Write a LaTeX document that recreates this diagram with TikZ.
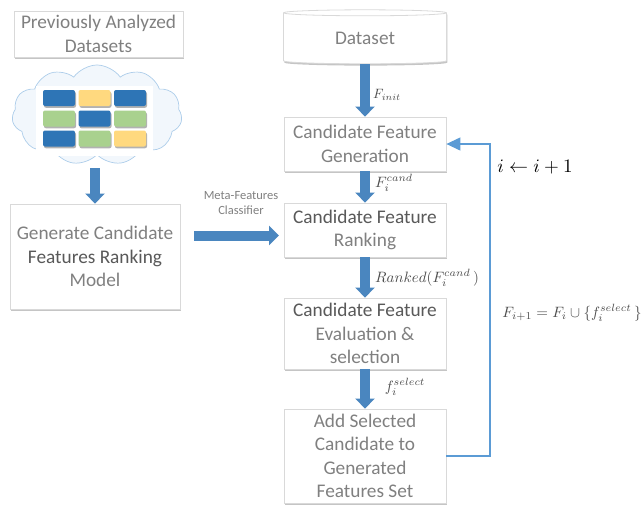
\documentclass[tikz,border=0pt]{standalone}
\usepackage{fontspec}
\setmainfont{Carlito}
\usetikzlibrary{arrows.meta,shapes.geometric,shapes.symbols,shadows}
\definecolor{flowblue}{HTML}{4A86BF}
\definecolor{loopblue}{HTML}{5B9BD5}
\definecolor{textgray}{HTML}{808080}
\definecolor{textdark}{HTML}{595959}
\definecolor{cellblue}{HTML}{2E75B6}
\definecolor{cellyellow}{HTML}{FFD97F}
\definecolor{cellgreen}{HTML}{A9D18E}
\tikzstyle{block}=[draw=black!15, line width=.8pt, fill=white, align=center, inner sep=0pt,
    text=textgray, font=\fontsize{19.3}{23.5}\selectfont, minimum width=162pt,
    drop shadow={shadow xshift=.8pt, shadow yshift=-1.8pt, fill=black!45}]
\tikzstyle{cell}=[rounded corners=2pt, minimum width=32pt, minimum height=16pt, inner sep=0pt,
    drop shadow={shadow xshift=1pt, shadow yshift=-1.8pt, fill=black!60}]
\tikzstyle{flow}=[draw=flowblue, line width=10pt, -{Triangle[width=19pt,length=10pt]}]
\tikzstyle{feedback}=[draw=loopblue, line width=1.2pt, -{Triangle[width=13pt,length=14pt]}]
\tikzstyle{mathlabel}=[inner sep=0pt, text=black!70, scale=1.5]
\newcommand{\block}{\node[block]}
\newcommand{\cell}{\node[cell]}
\newcommand{\darktext}[1]{\textcolor{textdark}{#1}}

\begin{document}
\begin{tikzpicture}[x=1pt, y=-1pt]
\useasboundingbox (0,0) rectangle (643,504);
\node[cloud, cloud puffs=11, cloud puff arc=110, aspect=1.7, draw=loopblue!50, fill=loopblue!8,
    line width=.7pt, minimum width=170pt, minimum height=100pt, inner sep=0pt] (cloud) at (97,115) {};
\node[fill=white, minimum width=117pt, minimum height=70pt, inner sep=0pt] (sheet) at (94.5,120.5) {};
\cell[fill=cellblue] (c11) at (59,98) {};
\cell[fill=cellyellow] (c12) at (94.5,98) {};
\cell[fill=cellblue] (c13) at (130,98) {};
\cell[fill=cellgreen] (c21) at (59,118.5) {};
\cell[fill=cellblue] (c22) at (94.5,118.5) {};
\cell[fill=cellgreen] (c23) at (130,118.5) {};
\cell[fill=cellblue] (c31) at (59,138.5) {};
\cell[fill=cellgreen] (c32) at (94.5,138.5) {};
\cell[fill=cellyellow] (c33) at (130,138.5) {};

\block[minimum width=169pt, minimum height=46pt] (prev) at (98.5,34) {Previously Analyzed\\Datasets};
\block[minimum width=170pt, minimum height=105pt] (model) at (95,256.5)
    {Generate Candidate\\\darktext{Features Ranking}\\Model};
\node[block, cylinder, shape border rotate=90, shape aspect=.1, minimum width=163pt, minimum height=54pt] (data) at (365,38.5) {Dataset};
\block[minimum height=54pt] (gen) at (365,144) {Candidate Feature\\Generation};
\block[minimum height=54pt] (rank) at (365,230) {\darktext{Candidate Feature}\\Ranking};
\block[minimum height=71pt] (eval) at (365,333.5) {\darktext{Candidate Feature}\\Evaluation \&\\selection};
\block[minimum height=94pt] (add) at (365,456) {Add Selected\\Candidate to\\Generated\\Features Set};

\coordinate (cloudfoot) at (95,168);
\coordinate (metastart) at (194,235.5);
\coordinate (metaend) at (279,235.5);
\coordinate (loopturn) at (490,456);

\path
(cloudfoot) edge[flow] (model.north)
(data.south) edge[flow] (gen.north)
(gen.south) edge[flow] (rank.north)
(rank.south) edge[flow] (eval.north)
(eval.south) edge[flow] (add.north)
(metastart) edge[flow] (metaend)
;
\draw[feedback] (add.east) -- (loopturn) |- (gen.east);

\node[align=center, inner sep=0pt, text=textgray, font=\fontsize{12.5}{15}\selectfont] (meta) at (241,203) {Meta-Features\\Classifier};
\node[mathlabel, scale=.9] (finit) at (387,95) {$F_{init}$};
\node[mathlabel] (fcand) at (394,183) {$F_i^{cand}$};
\node[mathlabel] (franked) at (427,278) {$Ranked(F_i^{cand}\,)$};
\node[mathlabel] (fselect) at (405,387) {$f_i^{select}$};
\node[inner sep=0pt, text=black, scale=1.9] (incr) at (535,167) {$i \leftarrow i + 1$};
\node[mathlabel] (fnext) at (572,313) {$F_{i+1} = F_i \cup \{f_i^{select}\,\}$};
\end{tikzpicture}
\end{document}
